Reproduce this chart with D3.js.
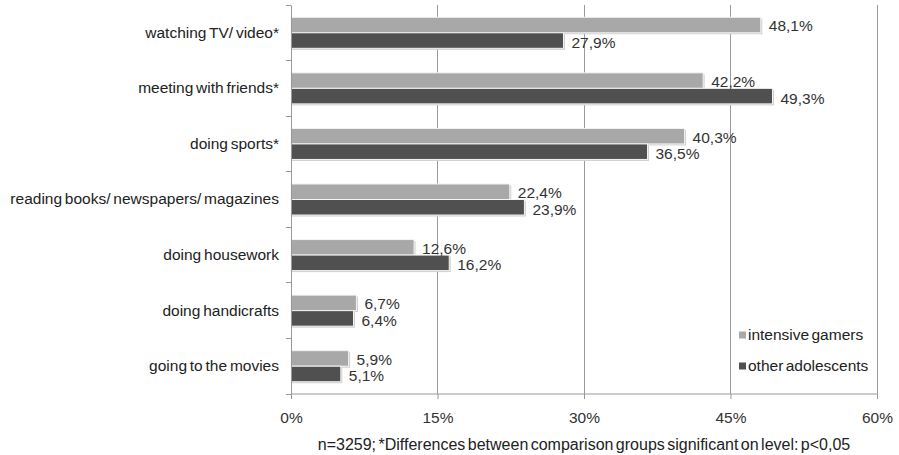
<!DOCTYPE html>
<html>
<head>
<meta charset="utf-8">
<script src="https://cdn.jsdelivr.net/npm/d3@7"></script>
<style>
  html, body { margin: 0; padding: 0; background: #fff; }
  svg { display: block; font-family: "Liberation Sans", Arial, sans-serif; }
</style>
</head>
<body>
<svg id="chart" width="899" height="455"></svg>
<script>
// Leisure activities: intensive gamers vs. other adolescents (percent)
const categories = [
  "watching TV/ video*",
  "meeting with friends*",
  "doing sports*",
  "reading books/ newspapers/ magazines",
  "doing housework",
  "doing handicrafts",
  "going to the movies"
];
const seriesNames = ["intensive gamers", "other adolescents"];
const intensiveGamers = [48.1, 42.2, 40.3, 22.4, 12.6, 6.7, 5.9];
const otherAdolescents = [27.9, 49.3, 36.5, 23.9, 16.2, 6.4, 5.1];
const xTicks = [0, 15, 30, 45, 60];
const footnote = "n=3259; *Differences between comparison groups significant on level: p<0,05";

const colors = ["#a8a8a8", "#505050"];
const fmt = v => v.toFixed(1).replace(".", ",") + "%";
const FONT = "Liberation Sans, Arial, sans-serif";
const FS = 15.5;

const svg = d3.select("#chart");
const margin = { left: 291, right: 22, top: 5, bottom: 61 };
const W = 899, H = 455;
const x = d3.scaleLinear().domain([0, 60]).range([margin.left, W - margin.right]);
const y = d3.scaleBand().domain(categories).range([margin.top, H - margin.bottom]);
const inner = d3.scaleBand().domain(seriesNames).range([0, y.bandwidth()]).paddingInner(0).paddingOuter(0.79);

// vertical gridlines
svg.append("g").selectAll("line").data(xTicks.slice(1)).join("line")
  .attr("x1", d => x(d)).attr("x2", d => x(d))
  .attr("y1", margin.top).attr("y2", H - margin.bottom)
  .attr("stroke", "#9a9a9a").attr("stroke-width", 1).attr("shape-rendering", "crispEdges");

// bars
const rows = categories.map((c, i) => ({ c, vals: [intensiveGamers[i], otherAdolescents[i]] }));
const g = svg.append("g");
rows.forEach(r => {
  r.vals.forEach((v, j) => {
    const yy = y(r.c) + inner(seriesNames[j]);
    const h = inner.bandwidth();
    // soft shadow
    g.append("rect")
      .attr("x", x(0)).attr("y", yy + 1.5)
      .attr("width", x(v) - x(0) + 1.5).attr("height", h)
      .attr("fill", "#d0d0d0");
    g.append("rect")
      .attr("x", x(0)).attr("y", yy)
      .attr("width", x(v) - x(0)).attr("height", h)
      .attr("fill", colors[j]).attr("stroke", "#f4f4f4").attr("stroke-width", 1);
  });
});

// value labels
rows.forEach(r => {
  r.vals.forEach((v, j) => {
    const yy = y(r.c) + inner(seriesNames[j]) + inner.bandwidth() / 2;
    g.append("text")
      .attr("x", x(v) + 8).attr("y", yy + (j === 0 ? 1 : 2))
      .attr("dy", "0.35em")
      .attr("font-size", FS).attr("fill", "#333")
      .text(fmt(v));
  });
});

// y axis
const yAxis = svg.append("g").attr("transform", `translate(${x(0)},0)`)
  .call(d3.axisLeft(y).tickSize(0).tickPadding(12));
yAxis.select(".domain").attr("stroke", "#999");
yAxis.selectAll("text").attr("font-size", FS).attr("fill", "#222")
  .attr("font-family", FONT).attr("word-spacing", "-1.5");
// category boundary ticks
svg.append("g").selectAll("line").data(categories.concat(["_end"])).join("line")
  .attr("x1", x(0) - 5).attr("x2", x(0))
  .attr("y1", (d, i) => margin.top + i * y.step())
  .attr("y2", (d, i) => margin.top + i * y.step())
  .attr("stroke", "#999").attr("shape-rendering", "crispEdges");

// x axis
const xAxis = svg.append("g").attr("transform", `translate(0,${H - margin.bottom})`)
  .call(d3.axisBottom(x).tickValues(xTicks).tickSize(5).tickPadding(13).tickFormat(d => d + "%"));
xAxis.select(".domain").attr("stroke", "#999").attr("d", `M${x(0)},0H${x(60)}`);
xAxis.selectAll("line").attr("stroke", "#999");
xAxis.selectAll("text").attr("font-size", FS).attr("fill", "#333")
  .attr("font-family", FONT);

// legend
const legend = svg.append("g");
seriesNames.forEach((s, i) => {
  const ly = 335 + i * 31;
  legend.append("rect").attr("x", 739).attr("y", ly - 3.5).attr("width", 7).attr("height", 7)
    .attr("fill", colors[i]);
  legend.append("text").attr("x", 748).attr("y", ly).attr("dy", "0.35em")
    .attr("font-size", FS).attr("fill", "#222").attr("word-spacing", "-2").text(s);
});

// footnote
svg.append("text").attr("x", 584).attr("y", 444).attr("dy", "0.35em")
  .attr("text-anchor", "middle").attr("font-size", 16).attr("fill", "#222")
  .attr("word-spacing", "-2")
  .text(footnote);
</script>
</body>
</html>
